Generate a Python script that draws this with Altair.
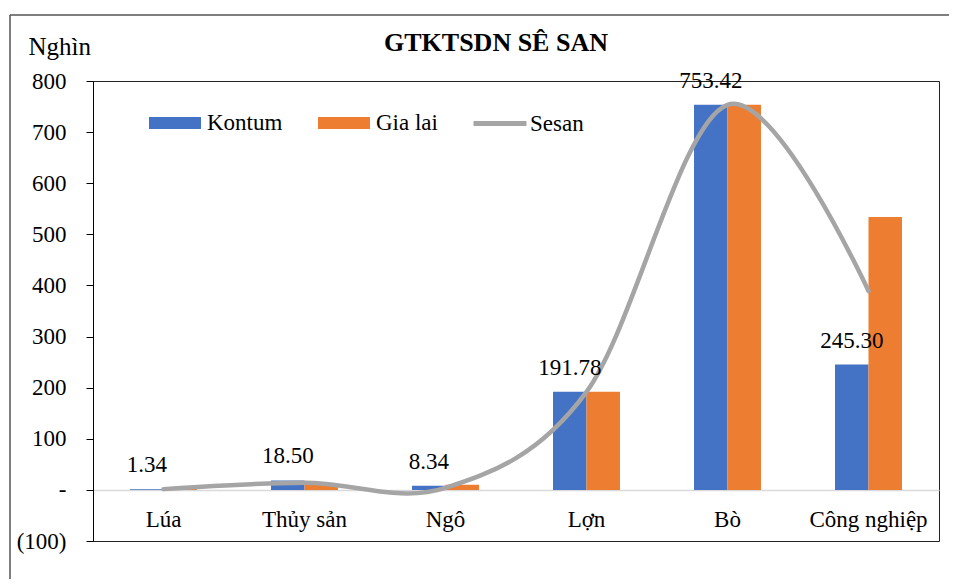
import altair as alt
import pandas as pd

categories = ["Lúa", "Thủy sản", "Ngô", "Lợn", "Bò", "Công nghiệp"]
kontum = [1.34, 18.50, 8.34, 191.78, 753.42, 245.30]
gia_lai = [1.6, 10.0, 10.0, 191.78, 753.42, 534.0]
sesan = [1.5, 14.0, 4.0, 191.78, 753.42, 389.0]
series_names = ["Kontum", "Gia lai", "Sesan"]
series_colors = ["#4472C4", "#ED7D31", "#A5A5A5"]
y_ticks = [-100, 0, 100, 200, 300, 400, 500, 600, 700, 800]

rows = []
for name, vals in zip(series_names, [kontum, gia_lai, sesan]):
    for c, v in zip(categories, vals):
        rows.append({"category": c, "series": name, "value": v})
df = pd.DataFrame(rows)

FONT = "Liberation Serif, Times New Roman, serif"
W, H = 846, 460
bar_series = series_names[:2]

base = alt.Chart(df)

x_enc = alt.X(
    "category:N", sort=categories,
    scale=alt.Scale(paddingInner=0.05, paddingOuter=0.025),
    axis=alt.Axis(
        title=None, orient="bottom", offset=-51, domainColor="#D9D9D9", domainWidth=1.5,
        ticks=False, tickSize=0, labelPadding=36, labelBaseline="alphabetic",
        labelFontSize=23, labelFont=FONT, labelColor="black", labelAngle=0,
    ),
)

label_expr = (
    "datum.value < 0 ? '(' + format(-datum.value, ',') + ')' : "
    "(datum.value == 0 ? '-' : format(datum.value, ','))"
)

y_enc = alt.Y(
    "value:Q",
    scale=alt.Scale(domain=[-100, 800], nice=False, zero=False),
    axis=alt.Axis(
        values=y_ticks, labelExpr=label_expr, grid=False,
        title="Nghìn", titleAngle=0, titleX=-65, titleY=-27, titleAlign="left",
        titleBaseline="alphabetic", titleFontSize=25, titleFontWeight="normal",
        titleFont=FONT, titleColor="black",
        labelFontSize=23, labelFont=FONT, labelColor="black", labelPadding=20,
        tickSize=7, tickColor="black", domainColor="black",
    ),
)

x_off = alt.XOffset(
    "series:N", sort=bar_series,
    scale=alt.Scale(domain=bar_series, paddingInner=0, paddingOuter=1),
)

bars = base.transform_filter(
    alt.FieldOneOfPredicate(field="series", oneOf=bar_series)
).mark_bar().encode(
    x=x_enc, xOffset=x_off, y=y_enc,
    color=alt.Color(
        "series:N",
        scale=alt.Scale(domain=bar_series, range=series_colors[:2]),
        legend=alt.Legend(
            title=None, orient="none", legendX=56, legendY=16, direction="horizontal",
            symbolType="M-1,-0.23H1V0.23H-1Z", symbolSize=2704, symbolStrokeWidth=0,
            labelFontSize=23, labelFont=FONT, labelColor="black", labelOffset=6,
            columnPadding=35, padding=0, symbolOpacity=1,
        ),
    ),
)

line = base.transform_filter(alt.datum.series == "Sesan").mark_line(
    interpolate="cardinal", tension=0, strokeWidth=4.5, strokeCap="round"
).encode(
    x=x_enc, y=y_enc,
    stroke=alt.Stroke(
        "series:N",
        scale=alt.Scale(domain=["Sesan"], range=[series_colors[2]]),
        legend=alt.Legend(
            title=None, orient="none", legendX=378, legendY=13.5, direction="horizontal",
            symbolType="stroke", symbolSize=2809, symbolStrokeWidth=5,
            labelFontSize=23, labelFont=FONT, labelColor="black", labelOffset=1,
            padding=0,
        ),
    ),
)

labels = base.transform_filter(alt.datum.series == "Kontum").mark_text(
    font=FONT, fontSize=23, color="black", baseline="middle", dy=-24
).encode(
    x=x_enc, xOffset=x_off, y=y_enc,
    text=alt.Text("value:Q", format=".2f"),
)

frame_df = pd.DataFrame({"k": [0]})
border_v = alt.Chart(frame_df).mark_rule(color="#555555", strokeWidth=1.5).encode(
    x=alt.value(-83), y=alt.value(-66), y2=alt.value(H + 38)
)
border_h = alt.Chart(frame_df).mark_rule(color="#555555", strokeWidth=1.5).encode(
    x=alt.value(-83), x2=alt.value(W + 10), y=alt.value(-66)
)

chart = alt.layer(bars, line, labels, border_v, border_h).resolve_scale(
    color="independent", stroke="independent"
).properties(
    width=W, height=H,
    title=alt.TitleParams(
        "GTKTSDN SÊ SAN", fontSize=26, fontWeight="bold", font=FONT, color="black",
        anchor="middle", dx=-20, offset=-63, baseline="alphabetic",
    ),
    autosize=alt.AutoSizeParams(type="none"),
    padding={"left": 85, "top": 73, "right": 10, "bottom": 38},
).configure(
    background="white", font=FONT
).configure_view(
    stroke="#222222", strokeWidth=1
).configure_axis(
    labelFont=FONT, titleFont=FONT
).configure_legend(
    labelFont=FONT, titleFont=FONT
).configure_text(font=FONT).configure_title(font=FONT)

chart.save("out.html", embed_options={"renderer": "svg", "actions": False})
